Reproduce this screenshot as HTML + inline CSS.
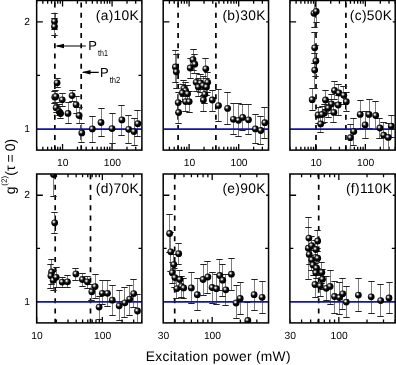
<!DOCTYPE html>
<html><head><meta charset="utf-8"><style>html,body{margin:0;padding:0;background:#fff}svg{display:block;will-change:transform}text{font-family:"Liberation Sans",sans-serif;fill:#000;text-rendering:geometricPrecision}</style></head><body>
<svg width="396" height="365" viewBox="0 0 396 365">
<defs><radialGradient id="g" cx="0.37" cy="0.36" r="0.6"><stop offset="0" stop-color="#fff"/><stop offset="0.16" stop-color="#d0d0d0"/><stop offset="0.36" stop-color="#444"/><stop offset="0.58" stop-color="#050505"/><stop offset="1" stop-color="#000"/></radialGradient>
<clipPath id="ca"><rect x="36.65" y="0.5" width="105.25" height="149.6"/></clipPath>
<clipPath id="cb"><rect x="163.2" y="0.5" width="105.35" height="149.6"/></clipPath>
<clipPath id="cc"><rect x="289.9" y="0.5" width="105.3" height="149.6"/></clipPath>
<clipPath id="cd"><rect x="36.65" y="174" width="105.25" height="148.9"/></clipPath>
<clipPath id="ce"><rect x="163.2" y="174" width="105.35" height="148.9"/></clipPath>
<clipPath id="cf"><rect x="289.9" y="174" width="105.3" height="148.9"/></clipPath>
</defs>
<rect width="396" height="365" fill="#fff"/>
<g clip-path="url(#ca)"><line x1="54.85" x2="54.85" y1="150.3" y2="0.5" stroke="#000" stroke-width="1.7" stroke-dasharray="5 5.2"/><line x1="81.2" x2="81.2" y1="150.3" y2="0.5" stroke="#000" stroke-width="1.7" stroke-dasharray="5 5.2"/><path d="M36.65 150.1v-3.3M36.65 0.5v3.3M42.84 150.1v-3.3M42.84 0.5v3.3M47.64 150.1v-3.3M47.64 0.5v3.3M51.56 150.1v-3.3M51.56 0.5v3.3M54.88 150.1v-3.3M54.88 0.5v3.3M57.75 150.1v-3.3M57.75 0.5v3.3M60.28 150.1v-3.3M60.28 0.5v3.3M62.55 150.1v-6M62.55 0.5v6M77.46 150.1v-3.3M77.46 0.5v3.3M86.18 150.1v-3.3M86.18 0.5v3.3M92.37 150.1v-3.3M92.37 0.5v3.3M97.17 150.1v-3.3M97.17 0.5v3.3M101.09 150.1v-3.3M101.09 0.5v3.3M104.41 150.1v-3.3M104.41 0.5v3.3M107.28 150.1v-3.3M107.28 0.5v3.3M109.81 150.1v-3.3M109.81 0.5v3.3M112.08 150.1v-6M112.08 0.5v6M126.99 150.1v-3.3M126.99 0.5v3.3M135.71 150.1v-3.3M135.71 0.5v3.3M141.9 150.1v-3.3M141.9 0.5v3.3M36.65 21.87h6.2M141.9 21.87h-2.4M36.65 75.3h3.4M141.9 75.3h-3.4" stroke="#000" stroke-width="1.3" fill="none"/><path d="M54.5 13.5V29.5M54.5 18.5V35.5M57.5 78.5V87.5M54.5 91.5V103.5M55.5 90.5V102.5M62.5 93.5V106.5M72.5 90.5V101.5M76.5 96.5V113.5M56.5 102.5V112.5M59.5 104.5V115.5M60.5 106.5V118.5M68.5 102.5V123.5M79.5 107.5V123.5M81.5 123.5V142.5M92.5 116.5V142.5M101.5 108.5V136.5M112.5 113.5V143.5M121.5 105.5V135.5M128.5 115.5V143.5M134.5 118.5V145.5M137.5 110.5V136.5" stroke="#7c7c7c" stroke-width="1" fill="none"/><path d="M51.3 13.5h6.4M51.3 29.5h6.4M51.3 18.5h6.4M51.3 35.5h6.4M54.3 78.5h6.4M54.3 87.5h6.4M51.3 91.5h6.4M51.3 103.5h6.4M52.3 90.5h6.4M52.3 102.5h6.4M59.3 93.5h6.4M59.3 106.5h6.4M69.3 90.5h6.4M69.3 101.5h6.4M73.3 96.5h6.4M73.3 113.5h6.4M53.3 102.5h6.4M53.3 112.5h6.4M56.3 104.5h6.4M56.3 115.5h6.4M57.3 106.5h6.4M57.3 118.5h6.4M65.3 102.5h6.4M65.3 123.5h6.4M76.3 107.5h6.4M76.3 123.5h6.4M78.3 123.5h6.4M78.3 142.5h6.4M89.3 116.5h6.4M89.3 142.5h6.4M98.3 108.5h6.4M98.3 136.5h6.4M109.3 113.5h6.4M109.3 143.5h6.4M118.3 105.5h6.4M118.3 135.5h6.4M125.3 115.5h6.4M125.3 143.5h6.4M131.3 118.5h6.4M131.3 145.5h6.4M134.3 110.5h6.4M134.3 136.5h6.4" stroke="#222" stroke-width="1.15" fill="none"/><line x1="36.65" x2="141.9" y1="129.03" y2="129.03" stroke="#1414ac" stroke-width="1.7"/><circle cx="54.5" cy="21.4" r="3.4" fill="url(#g)"/><circle cx="54.5" cy="26.6" r="3.4" fill="url(#g)"/><circle cx="57.1" cy="82.8" r="3.4" fill="url(#g)"/><circle cx="54.8" cy="97.2" r="3.4" fill="url(#g)"/><circle cx="55.9" cy="96.4" r="3.4" fill="url(#g)"/><circle cx="62.2" cy="99.8" r="3.4" fill="url(#g)"/><circle cx="72.1" cy="95.6" r="3.4" fill="url(#g)"/><circle cx="76.1" cy="104.7" r="3.4" fill="url(#g)"/><circle cx="56.1" cy="107.7" r="3.4" fill="url(#g)"/><circle cx="59.2" cy="111.6" r="3.4" fill="url(#g)"/><circle cx="60.6" cy="113.6" r="3.4" fill="url(#g)"/><circle cx="60" cy="112.8" r="3.4" fill="#000"/><circle cx="68" cy="113.4" r="3.4" fill="url(#g)"/><circle cx="79.1" cy="115.5" r="3.4" fill="url(#g)"/><circle cx="81.8" cy="132.9" r="3.4" fill="url(#g)"/><circle cx="92.3" cy="128.9" r="3.4" fill="url(#g)"/><circle cx="101" cy="122.5" r="3.4" fill="url(#g)"/><circle cx="112" cy="128.6" r="3.4" fill="url(#g)"/><circle cx="121.9" cy="119.9" r="3.4" fill="url(#g)"/><circle cx="128.7" cy="129.3" r="3.4" fill="url(#g)"/><circle cx="134" cy="131.6" r="3.4" fill="url(#g)"/><circle cx="137.8" cy="123.7" r="3.4" fill="url(#g)"/></g>
<rect x="36.65" y="0.5" width="105.25" height="149.6" fill="none" stroke="#000" stroke-width="1.5"/>
<text x="139" y="19.8" font-size="13.8" letter-spacing="0.3" text-anchor="end">(a)10K</text>
<text x="62.85" y="165.9" font-size="10.3" text-anchor="middle">10</text>
<text x="112.38" y="165.9" font-size="10.3" text-anchor="middle">100</text>
<text x="29.95" y="131.63" font-size="10.3" text-anchor="end">1</text>
<text x="29.95" y="24.77" font-size="10.3" text-anchor="end">2</text>
<g clip-path="url(#cb)"><line x1="178.1" x2="178.1" y1="150.3" y2="0.5" stroke="#000" stroke-width="1.7" stroke-dasharray="5 5.2"/><line x1="215.9" x2="215.9" y1="150.3" y2="0.5" stroke="#000" stroke-width="1.7" stroke-dasharray="5 5.2"/><path d="M163.2 150.1v-3.3M163.2 0.5v3.3M169.39 150.1v-3.3M169.39 0.5v3.3M174.2 150.1v-3.3M174.2 0.5v3.3M178.12 150.1v-3.3M178.12 0.5v3.3M181.44 150.1v-3.3M181.44 0.5v3.3M184.32 150.1v-3.3M184.32 0.5v3.3M186.85 150.1v-3.3M186.85 0.5v3.3M189.12 150.1v-6M189.12 0.5v6M204.05 150.1v-3.3M204.05 0.5v3.3M212.78 150.1v-3.3M212.78 0.5v3.3M218.97 150.1v-3.3M218.97 0.5v3.3M223.78 150.1v-3.3M223.78 0.5v3.3M227.7 150.1v-3.3M227.7 0.5v3.3M231.02 150.1v-3.3M231.02 0.5v3.3M233.9 150.1v-3.3M233.9 0.5v3.3M236.43 150.1v-3.3M236.43 0.5v3.3M238.7 150.1v-6M238.7 0.5v6M253.63 150.1v-3.3M253.63 0.5v3.3M262.36 150.1v-3.3M262.36 0.5v3.3M268.55 150.1v-3.3M268.55 0.5v3.3M163.2 21.87h6.2M268.55 21.87h-2.4" stroke="#000" stroke-width="1.3" fill="none"/><path d="M175.5 50.5V82.5M176.5 54.5V88.5M193.5 49.5V70.5M194.5 54.5V73.5M190.5 58.5V78.5M205.5 58.5V78.5M183.5 80.5V96.5M185.5 82.5V99.5M182.5 84.5V101.5M187.5 85.5V102.5M185.5 92.5V111.5M189.5 91.5V112.5M178.5 92.5V112.5M178.5 101.5V123.5M196.5 73.5V91.5M200.5 74.5V92.5M207.5 72.5V92.5M198.5 78.5V96.5M203.5 76.5V95.5M206.5 78.5V95.5M204.5 85.5V103.5M203.5 89.5V111.5M212.5 90.5V111.5M218.5 89.5V121.5M227.5 92.5V124.5M233.5 103.5V134.5M238.5 103.5V136.5M242.5 104.5V130.5M248.5 104.5V134.5M255.5 114.5V143.5M260.5 116.5V144.5M264.5 107.5V138.5" stroke="#7c7c7c" stroke-width="1" fill="none"/><path d="M172.3 50.5h6.4M172.3 82.5h6.4M173.3 54.5h6.4M173.3 88.5h6.4M190.3 49.5h6.4M190.3 70.5h6.4M191.3 54.5h6.4M191.3 73.5h6.4M187.3 58.5h6.4M187.3 78.5h6.4M202.3 58.5h6.4M202.3 78.5h6.4M180.3 80.5h6.4M180.3 96.5h6.4M182.3 82.5h6.4M182.3 99.5h6.4M179.3 84.5h6.4M179.3 101.5h6.4M184.3 85.5h6.4M184.3 102.5h6.4M182.3 92.5h6.4M182.3 111.5h6.4M186.3 91.5h6.4M186.3 112.5h6.4M175.3 92.5h6.4M175.3 112.5h6.4M175.3 101.5h6.4M175.3 123.5h6.4M193.3 73.5h6.4M193.3 91.5h6.4M197.3 74.5h6.4M197.3 92.5h6.4M204.3 72.5h6.4M204.3 92.5h6.4M195.3 78.5h6.4M195.3 96.5h6.4M200.3 76.5h6.4M200.3 95.5h6.4M203.3 78.5h6.4M203.3 95.5h6.4M201.3 85.5h6.4M201.3 103.5h6.4M200.3 89.5h6.4M200.3 111.5h6.4M209.3 90.5h6.4M209.3 111.5h6.4M215.3 89.5h6.4M215.3 121.5h6.4M224.3 92.5h6.4M224.3 124.5h6.4M230.3 103.5h6.4M230.3 134.5h6.4M235.3 103.5h6.4M235.3 136.5h6.4M239.3 104.5h6.4M239.3 130.5h6.4M245.3 104.5h6.4M245.3 134.5h6.4M252.3 114.5h6.4M252.3 143.5h6.4M257.3 116.5h6.4M257.3 144.5h6.4M261.3 107.5h6.4M261.3 138.5h6.4" stroke="#222" stroke-width="1.15" fill="none"/><line x1="163.2" x2="268.55" y1="129.03" y2="129.03" stroke="#1414ac" stroke-width="1.7"/><circle cx="175.4" cy="67" r="3.4" fill="url(#g)"/><circle cx="176.3" cy="71.8" r="3.4" fill="url(#g)"/><circle cx="193" cy="59.7" r="3.4" fill="url(#g)"/><circle cx="194.8" cy="64.2" r="3.4" fill="url(#g)"/><circle cx="190.2" cy="68" r="3.4" fill="url(#g)"/><circle cx="205.8" cy="68.8" r="3.4" fill="url(#g)"/><circle cx="183.9" cy="88.3" r="3.4" fill="url(#g)"/><circle cx="185.6" cy="90.6" r="3.4" fill="url(#g)"/><circle cx="182.3" cy="93" r="3.4" fill="url(#g)"/><circle cx="187.6" cy="93.8" r="3.4" fill="url(#g)"/><circle cx="185.6" cy="101.6" r="3.4" fill="url(#g)"/><circle cx="189.2" cy="101.6" r="3.4" fill="url(#g)"/><circle cx="178.2" cy="102.6" r="3.4" fill="url(#g)"/><circle cx="178.6" cy="112.5" r="3.4" fill="url(#g)"/><circle cx="196.2" cy="82.3" r="3.4" fill="url(#g)"/><circle cx="200.4" cy="83" r="3.4" fill="url(#g)"/><circle cx="207.7" cy="82.3" r="3.4" fill="url(#g)"/><circle cx="198.3" cy="87" r="3.4" fill="url(#g)"/><circle cx="203" cy="85.6" r="3.4" fill="url(#g)"/><circle cx="206.5" cy="87" r="3.4" fill="url(#g)"/><circle cx="204.8" cy="94.3" r="3.4" fill="url(#g)"/><circle cx="203.4" cy="100" r="3.4" fill="url(#g)"/><circle cx="212.3" cy="100" r="3.4" fill="url(#g)"/><circle cx="218.5" cy="105.6" r="3.4" fill="url(#g)"/><circle cx="227.6" cy="108.4" r="3.4" fill="url(#g)"/><circle cx="233.4" cy="119.3" r="3.4" fill="url(#g)"/><circle cx="238.5" cy="120.3" r="3.4" fill="url(#g)"/><circle cx="242.7" cy="117.4" r="3.4" fill="url(#g)"/><circle cx="248.5" cy="119.8" r="3.4" fill="url(#g)"/><circle cx="255.4" cy="128.9" r="3.4" fill="url(#g)"/><circle cx="260.8" cy="130.5" r="3.4" fill="url(#g)"/><circle cx="264.8" cy="122.7" r="3.4" fill="url(#g)"/></g>
<rect x="163.2" y="0.5" width="105.35" height="149.6" fill="none" stroke="#000" stroke-width="1.5"/>
<text x="265.65" y="19.8" font-size="13.8" letter-spacing="0.3" text-anchor="end">(b)30K</text>
<text x="189.42" y="165.9" font-size="10.3" text-anchor="middle">10</text>
<text x="239" y="165.9" font-size="10.3" text-anchor="middle">100</text>
<g clip-path="url(#cc)"><line x1="316" x2="316" y1="150.3" y2="0.5" stroke="#000" stroke-width="1.7" stroke-dasharray="5 5.2"/><line x1="345.9" x2="345.9" y1="150.3" y2="0.5" stroke="#000" stroke-width="1.7" stroke-dasharray="5 5.2"/><path d="M289.9 150.1v-3.3M289.9 0.5v3.3M296.09 150.1v-3.3M296.09 0.5v3.3M300.89 150.1v-3.3M300.89 0.5v3.3M304.82 150.1v-3.3M304.82 0.5v3.3M308.13 150.1v-3.3M308.13 0.5v3.3M311.01 150.1v-3.3M311.01 0.5v3.3M313.54 150.1v-3.3M313.54 0.5v3.3M315.81 150.1v-6M315.81 0.5v6M330.73 150.1v-3.3M330.73 0.5v3.3M339.45 150.1v-3.3M339.45 0.5v3.3M345.65 150.1v-3.3M345.65 0.5v3.3M350.45 150.1v-3.3M350.45 0.5v3.3M354.37 150.1v-3.3M354.37 0.5v3.3M357.69 150.1v-3.3M357.69 0.5v3.3M360.56 150.1v-3.3M360.56 0.5v3.3M363.1 150.1v-3.3M363.1 0.5v3.3M365.37 150.1v-6M365.37 0.5v6M380.28 150.1v-3.3M380.28 0.5v3.3M389.01 150.1v-3.3M389.01 0.5v3.3M395.2 150.1v-3.3M395.2 0.5v3.3M289.9 21.87h6.2M395.2 21.87h-2.4" stroke="#000" stroke-width="1.3" fill="none"/><path d="M314.5 -2.5V27.5M316.5 -2.5V22.5M314.5 32.5V63.5M315.5 45.5V76.5M314.5 53.5V88.5M312.5 88.5V110.5M325.5 90.5V109.5M334.5 81.5V99.5M338.5 84.5V102.5M343.5 86.5V104.5M346.5 92.5V111.5M338.5 95.5V115.5M331.5 94.5V113.5M328.5 99.5V117.5M333.5 103.5V122.5M324.5 104.5V122.5M318.5 107.5V123.5M322.5 106.5V123.5M320.5 116.5V132.5M353.5 118.5V145.5M350.5 124.5V151.5M360.5 100.5V128.5M369.5 99.5V128.5M375.5 101.5V129.5M365.5 111.5V138.5M379.5 118.5V138.5M383.5 122.5V153.5M388.5 123.5V151.5M391.5 115.5V137.5" stroke="#7c7c7c" stroke-width="1" fill="none"/><path d="M311.3 -2.5h6.4M311.3 27.5h6.4M313.3 -2.5h6.4M313.3 22.5h6.4M311.3 32.5h6.4M311.3 63.5h6.4M312.3 45.5h6.4M312.3 76.5h6.4M311.3 53.5h6.4M311.3 88.5h6.4M309.3 88.5h6.4M309.3 110.5h6.4M322.3 90.5h6.4M322.3 109.5h6.4M331.3 81.5h6.4M331.3 99.5h6.4M335.3 84.5h6.4M335.3 102.5h6.4M340.3 86.5h6.4M340.3 104.5h6.4M343.3 92.5h6.4M343.3 111.5h6.4M335.3 95.5h6.4M335.3 115.5h6.4M328.3 94.5h6.4M328.3 113.5h6.4M325.3 99.5h6.4M325.3 117.5h6.4M330.3 103.5h6.4M330.3 122.5h6.4M321.3 104.5h6.4M321.3 122.5h6.4M315.3 107.5h6.4M315.3 123.5h6.4M319.3 106.5h6.4M319.3 123.5h6.4M317.3 116.5h6.4M317.3 132.5h6.4M350.3 118.5h6.4M350.3 145.5h6.4M347.3 124.5h6.4M347.3 151.5h6.4M357.3 100.5h6.4M357.3 128.5h6.4M366.3 99.5h6.4M366.3 128.5h6.4M372.3 101.5h6.4M372.3 129.5h6.4M362.3 111.5h6.4M362.3 138.5h6.4M376.3 118.5h6.4M376.3 138.5h6.4M380.3 122.5h6.4M380.3 153.5h6.4M385.3 123.5h6.4M385.3 151.5h6.4M388.3 115.5h6.4M388.3 137.5h6.4" stroke="#222" stroke-width="1.15" fill="none"/><line x1="289.9" x2="395.2" y1="129.03" y2="129.03" stroke="#1414ac" stroke-width="1.7"/><circle cx="314" cy="13.3" r="3.4" fill="url(#g)"/><circle cx="316.2" cy="11.4" r="3.4" fill="url(#g)"/><circle cx="314.7" cy="47.8" r="3.4" fill="url(#g)"/><circle cx="315.9" cy="61" r="3.4" fill="url(#g)"/><circle cx="314.7" cy="70.1" r="3.4" fill="url(#g)"/><circle cx="312.2" cy="99.7" r="3.4" fill="url(#g)"/><circle cx="325.5" cy="100" r="3.4" fill="url(#g)"/><circle cx="334.5" cy="90.5" r="3.4" fill="url(#g)"/><circle cx="338.9" cy="93" r="3.4" fill="url(#g)"/><circle cx="343.8" cy="95.3" r="3.4" fill="url(#g)"/><circle cx="346.3" cy="101.7" r="3.4" fill="url(#g)"/><circle cx="338.2" cy="105" r="3.4" fill="url(#g)"/><circle cx="331.5" cy="104" r="3.4" fill="url(#g)"/><circle cx="328.3" cy="108" r="3.4" fill="url(#g)"/><circle cx="333.9" cy="112.4" r="3.4" fill="url(#g)"/><circle cx="324.5" cy="113" r="3.4" fill="url(#g)"/><circle cx="318.1" cy="115" r="3.4" fill="url(#g)"/><circle cx="322" cy="114.5" r="3.4" fill="url(#g)"/><circle cx="320.7" cy="123.9" r="3.4" fill="url(#g)"/><circle cx="353.8" cy="131.5" r="3.4" fill="url(#g)"/><circle cx="350.4" cy="137.7" r="3.4" fill="url(#g)"/><circle cx="360.2" cy="114.4" r="3.4" fill="url(#g)"/><circle cx="369" cy="114.4" r="3.4" fill="url(#g)"/><circle cx="375.7" cy="115.5" r="3.4" fill="url(#g)"/><circle cx="365.1" cy="125" r="3.4" fill="url(#g)"/><circle cx="379.9" cy="128" r="3.4" fill="url(#g)"/><circle cx="383.7" cy="135.2" r="3.4" fill="url(#g)"/><circle cx="388.3" cy="137.4" r="3.4" fill="url(#g)"/><circle cx="391.3" cy="126.1" r="3.4" fill="url(#g)"/></g>
<rect x="289.9" y="0.5" width="105.3" height="149.6" fill="none" stroke="#000" stroke-width="1.5"/>
<text x="392.3" y="19.8" font-size="13.8" letter-spacing="0.3" text-anchor="end">(c)50K</text>
<text x="316.11" y="165.9" font-size="10.3" text-anchor="middle">10</text>
<text x="365.67" y="165.9" font-size="10.3" text-anchor="middle">100</text>
<g clip-path="url(#cd)"><line x1="55.2" x2="55.2" y1="323.8" y2="174" stroke="#000" stroke-width="1.7" stroke-dasharray="5 5.32"/><line x1="90.5" x2="90.5" y1="323.8" y2="174" stroke="#000" stroke-width="1.7" stroke-dasharray="5 5.32"/><path d="M36.65 322.9v-6M36.65 174v6M56.43 322.9v-3.3M56.43 174v3.3M68 322.9v-3.3M68 174v3.3M76.2 322.9v-3.3M76.2 174v3.3M82.57 322.9v-3.3M82.57 174v3.3M87.77 322.9v-3.3M87.77 174v3.3M92.17 322.9v-3.3M92.17 174v3.3M95.98 322.9v-3.3M95.98 174v3.3M99.34 322.9v-3.3M99.34 174v3.3M102.35 322.9v-6M102.35 174v6M122.12 322.9v-3.3M122.12 174v3.3M133.69 322.9v-3.3M133.69 174v3.3M141.9 322.9v-3.3M141.9 174v3.3M36.65 195.27h6.2M141.9 195.27h-2.4M36.65 248.45h3.4M141.9 248.45h-3.4" stroke="#000" stroke-width="1.3" fill="none"/><path d="M53.5 153.5V196.5M54.5 212.5V233.5M51.5 259.5V284.5M50.5 264.5V288.5M53.5 270.5V290.5M56.5 267.5V287.5M62.5 277.5V287.5M67.5 275.5V287.5M75.5 268.5V280.5M82.5 273.5V286.5M87.5 276.5V288.5M91.5 284.5V300.5M95.5 274.5V298.5M99.5 296.5V319.5M102.5 280.5V304.5M107.5 280.5V306.5M112.5 285.5V315.5M119.5 290.5V320.5M124.5 287.5V317.5M129.5 285.5V315.5M133.5 279.5V307.5M137.5 294.5V327.5" stroke="#7c7c7c" stroke-width="1" fill="none"/><path d="M50.3 153.5h6.4M50.3 196.5h6.4M51.3 212.5h6.4M51.3 233.5h6.4M48.3 259.5h6.4M48.3 284.5h6.4M47.3 264.5h6.4M47.3 288.5h6.4M50.3 270.5h6.4M50.3 290.5h6.4M53.3 267.5h6.4M53.3 287.5h6.4M59.3 277.5h6.4M59.3 287.5h6.4M64.3 275.5h6.4M64.3 287.5h6.4M72.3 268.5h6.4M72.3 280.5h6.4M79.3 273.5h6.4M79.3 286.5h6.4M84.3 276.5h6.4M84.3 288.5h6.4M88.3 284.5h6.4M88.3 300.5h6.4M92.3 274.5h6.4M92.3 298.5h6.4M96.3 296.5h6.4M96.3 319.5h6.4M99.3 280.5h6.4M99.3 304.5h6.4M104.3 280.5h6.4M104.3 306.5h6.4M109.3 285.5h6.4M109.3 315.5h6.4M116.3 290.5h6.4M116.3 320.5h6.4M121.3 287.5h6.4M121.3 317.5h6.4M126.3 285.5h6.4M126.3 315.5h6.4M130.3 279.5h6.4M130.3 307.5h6.4M134.3 294.5h6.4M134.3 327.5h6.4" stroke="#222" stroke-width="1.15" fill="none"/><line x1="36.65" x2="141.9" y1="301.93" y2="301.93" stroke="#1414ac" stroke-width="1.7"/><circle cx="53.5" cy="174.6" r="3.4" fill="url(#g)"/><circle cx="54.7" cy="222.8" r="3.4" fill="url(#g)"/><circle cx="51.6" cy="272" r="3.4" fill="url(#g)"/><circle cx="50.9" cy="275.8" r="3.4" fill="url(#g)"/><circle cx="53.2" cy="280.3" r="3.4" fill="url(#g)"/><circle cx="56.2" cy="277.3" r="3.4" fill="url(#g)"/><circle cx="62.2" cy="282.1" r="3.4" fill="url(#g)"/><circle cx="67.5" cy="281.8" r="3.4" fill="url(#g)"/><circle cx="75.9" cy="273.9" r="3.4" fill="url(#g)"/><circle cx="82.4" cy="279.5" r="3.4" fill="url(#g)"/><circle cx="87.3" cy="281.8" r="3.4" fill="url(#g)"/><circle cx="91.8" cy="291.8" r="3.4" fill="url(#g)"/><circle cx="95.1" cy="286.6" r="3.4" fill="url(#g)"/><circle cx="99.1" cy="307.1" r="3.4" fill="url(#g)"/><circle cx="102.3" cy="293.3" r="3.4" fill="url(#g)"/><circle cx="107.5" cy="293.3" r="3.4" fill="url(#g)"/><circle cx="112.3" cy="300.2" r="3.4" fill="url(#g)"/><circle cx="119.2" cy="305.8" r="3.4" fill="url(#g)"/><circle cx="124.9" cy="302.8" r="3.4" fill="url(#g)"/><circle cx="129.7" cy="299.1" r="3.4" fill="url(#g)"/><circle cx="133.7" cy="293.6" r="3.4" fill="url(#g)"/><circle cx="137.5" cy="311" r="3.4" fill="url(#g)"/></g>
<rect x="36.65" y="174" width="105.25" height="148.9" fill="none" stroke="#000" stroke-width="1.5"/>
<text x="139" y="193.3" font-size="13.8" letter-spacing="0.3" text-anchor="end">(d)70K</text>
<text x="36.95" y="338.7" font-size="10.3" text-anchor="middle">10</text>
<text x="102.65" y="338.7" font-size="10.3" text-anchor="middle">100</text>
<text x="29.95" y="304.53" font-size="10.3" text-anchor="end">1</text>
<text x="29.95" y="198.17" font-size="10.3" text-anchor="end">2</text>
<g clip-path="url(#ce)"><line x1="174.7" x2="174.7" y1="323.8" y2="174" stroke="#000" stroke-width="1.7" stroke-dasharray="5 5.32"/><path d="M163.2 322.9v-3.3M163.2 174v3.3M174.9 322.9v-3.3M174.9 174v3.3M183.98 322.9v-3.3M183.98 174v3.3M191.39 322.9v-3.3M191.39 174v3.3M197.66 322.9v-3.3M197.66 174v3.3M203.09 322.9v-3.3M203.09 174v3.3M207.88 322.9v-3.3M207.88 174v3.3M212.17 322.9v-6M212.17 174v6M240.36 322.9v-3.3M240.36 174v3.3M256.85 322.9v-3.3M256.85 174v3.3M268.55 322.9v-3.3M268.55 174v3.3M163.2 195.27h6.2M268.55 195.27h-2.4M163.2 248.45h3.4M268.55 248.45h-3.4" stroke="#000" stroke-width="1.3" fill="none"/><path d="M169.5 214.5V252.5M170.5 232.5V271.5M178.5 243.5V264.5M173.5 254.5V275.5M172.5 262.5V283.5M174.5 268.5V287.5M179.5 270.5V289.5M176.5 279.5V298.5M181.5 276.5V297.5M183.5 278.5V298.5M191.5 272.5V303.5M197.5 278.5V310.5M203.5 264.5V295.5M207.5 261.5V293.5M212.5 272.5V303.5M216.5 274.5V304.5M219.5 259.5V290.5M222.5 264.5V296.5M225.5 274.5V305.5M231.5 258.5V290.5M236.5 285.5V318.5M240.5 282.5V314.5M247.5 302.5V338.5M254.5 279.5V310.5M262.5 281.5V313.5" stroke="#7c7c7c" stroke-width="1" fill="none"/><path d="M166.3 214.5h6.4M166.3 252.5h6.4M167.3 232.5h6.4M167.3 271.5h6.4M175.3 243.5h6.4M175.3 264.5h6.4M170.3 254.5h6.4M170.3 275.5h6.4M169.3 262.5h6.4M169.3 283.5h6.4M171.3 268.5h6.4M171.3 287.5h6.4M176.3 270.5h6.4M176.3 289.5h6.4M173.3 279.5h6.4M173.3 298.5h6.4M178.3 276.5h6.4M178.3 297.5h6.4M180.3 278.5h6.4M180.3 298.5h6.4M188.3 272.5h6.4M188.3 303.5h6.4M194.3 278.5h6.4M194.3 310.5h6.4M200.3 264.5h6.4M200.3 295.5h6.4M204.3 261.5h6.4M204.3 293.5h6.4M209.3 272.5h6.4M209.3 303.5h6.4M213.3 274.5h6.4M213.3 304.5h6.4M216.3 259.5h6.4M216.3 290.5h6.4M219.3 264.5h6.4M219.3 296.5h6.4M222.3 274.5h6.4M222.3 305.5h6.4M228.3 258.5h6.4M228.3 290.5h6.4M233.3 285.5h6.4M233.3 318.5h6.4M237.3 282.5h6.4M237.3 314.5h6.4M244.3 302.5h6.4M244.3 338.5h6.4M251.3 279.5h6.4M251.3 310.5h6.4M259.3 281.5h6.4M259.3 313.5h6.4" stroke="#222" stroke-width="1.15" fill="none"/><line x1="163.2" x2="268.55" y1="301.93" y2="301.93" stroke="#1414ac" stroke-width="1.7"/><circle cx="169.6" cy="233.5" r="3.4" fill="url(#g)"/><circle cx="170.8" cy="251.8" r="3.4" fill="url(#g)"/><circle cx="178.7" cy="253.7" r="3.4" fill="url(#g)"/><circle cx="173.8" cy="264.6" r="3.4" fill="url(#g)"/><circle cx="172.3" cy="272.7" r="3.4" fill="url(#g)"/><circle cx="174.9" cy="277.6" r="3.4" fill="url(#g)"/><circle cx="179.9" cy="279.5" r="3.4" fill="url(#g)"/><circle cx="176.9" cy="288.6" r="3.4" fill="url(#g)"/><circle cx="181.4" cy="286.4" r="3.4" fill="url(#g)"/><circle cx="183.7" cy="287.9" r="3.4" fill="url(#g)"/><circle cx="191.3" cy="287.9" r="3.4" fill="url(#g)"/><circle cx="197.3" cy="294.7" r="3.4" fill="url(#g)"/><circle cx="203.1" cy="279.5" r="3.4" fill="url(#g)"/><circle cx="207.9" cy="277" r="3.4" fill="url(#g)"/><circle cx="212.1" cy="287.5" r="3.4" fill="url(#g)"/><circle cx="216.4" cy="288.7" r="3.4" fill="url(#g)"/><circle cx="219.8" cy="275.5" r="3.4" fill="url(#g)"/><circle cx="222.7" cy="280.2" r="3.4" fill="url(#g)"/><circle cx="225.8" cy="289.8" r="3.4" fill="url(#g)"/><circle cx="231.4" cy="274.2" r="3.4" fill="url(#g)"/><circle cx="236.1" cy="303" r="3.4" fill="url(#g)"/><circle cx="240.2" cy="298.4" r="3.4" fill="url(#g)"/><circle cx="247.8" cy="320.5" r="3.4" fill="url(#g)"/><circle cx="254.1" cy="294.7" r="3.4" fill="url(#g)"/><circle cx="262.1" cy="297.3" r="3.4" fill="url(#g)"/></g>
<rect x="163.2" y="174" width="105.35" height="148.9" fill="none" stroke="#000" stroke-width="1.5"/>
<text x="265.65" y="193.3" font-size="13.8" letter-spacing="0.3" text-anchor="end">(e)90K</text>
<text x="163.5" y="338.7" font-size="10.3" text-anchor="middle">30</text>
<text x="212.47" y="338.7" font-size="10.3" text-anchor="middle">100</text>
<g clip-path="url(#cf)"><line x1="318.7" x2="318.7" y1="323.8" y2="174" stroke="#000" stroke-width="1.7" stroke-dasharray="5 5.32"/><path d="M289.9 322.9v-3.3M289.9 174v3.3M301.59 322.9v-3.3M301.59 174v3.3M310.67 322.9v-3.3M310.67 174v3.3M318.08 322.9v-3.3M318.08 174v3.3M324.34 322.9v-3.3M324.34 174v3.3M329.77 322.9v-3.3M329.77 174v3.3M334.56 322.9v-3.3M334.56 174v3.3M338.84 322.9v-6M338.84 174v6M367.02 322.9v-3.3M367.02 174v3.3M383.51 322.9v-3.3M383.51 174v3.3M395.2 322.9v-3.3M395.2 174v3.3M289.9 195.27h6.2M395.2 195.27h-2.4M289.9 248.45h3.4M395.2 248.45h-3.4" stroke="#000" stroke-width="1.3" fill="none"/><path d="M308.5 227.5V249.5M317.5 230.5V251.5M308.5 217.5V279.5M311.5 236.5V255.5M315.5 240.5V259.5M309.5 245.5V264.5M315.5 247.5V267.5M311.5 250.5V270.5M317.5 248.5V268.5M313.5 255.5V275.5M316.5 258.5V278.5M315.5 263.5V283.5M321.5 262.5V283.5M322.5 269.5V289.5M315.5 271.5V297.5M320.5 275.5V296.5M326.5 276.5V300.5M330.5 270.5V304.5M334.5 281.5V313.5M339.5 282.5V314.5M342.5 278.5V309.5M346.5 286.5V317.5M358.5 278.5V311.5M371.5 281.5V313.5M380.5 284.5V316.5M389.5 282.5V313.5" stroke="#7c7c7c" stroke-width="1" fill="none"/><path d="M305.3 227.5h6.4M305.3 249.5h6.4M314.3 230.5h6.4M314.3 251.5h6.4M305.3 217.5h6.4M305.3 279.5h6.4M308.3 236.5h6.4M308.3 255.5h6.4M312.3 240.5h6.4M312.3 259.5h6.4M306.3 245.5h6.4M306.3 264.5h6.4M312.3 247.5h6.4M312.3 267.5h6.4M308.3 250.5h6.4M308.3 270.5h6.4M314.3 248.5h6.4M314.3 268.5h6.4M310.3 255.5h6.4M310.3 275.5h6.4M313.3 258.5h6.4M313.3 278.5h6.4M312.3 263.5h6.4M312.3 283.5h6.4M318.3 262.5h6.4M318.3 283.5h6.4M319.3 269.5h6.4M319.3 289.5h6.4M312.3 271.5h6.4M312.3 297.5h6.4M317.3 275.5h6.4M317.3 296.5h6.4M323.3 276.5h6.4M323.3 300.5h6.4M327.3 270.5h6.4M327.3 304.5h6.4M331.3 281.5h6.4M331.3 313.5h6.4M336.3 282.5h6.4M336.3 314.5h6.4M339.3 278.5h6.4M339.3 309.5h6.4M343.3 286.5h6.4M343.3 317.5h6.4M355.3 278.5h6.4M355.3 311.5h6.4M368.3 281.5h6.4M368.3 313.5h6.4M377.3 284.5h6.4M377.3 316.5h6.4M386.3 282.5h6.4M386.3 313.5h6.4" stroke="#222" stroke-width="1.15" fill="none"/><line x1="289.9" x2="395.2" y1="301.93" y2="301.93" stroke="#1414ac" stroke-width="1.7"/><circle cx="308.9" cy="238.1" r="3.4" fill="url(#g)"/><circle cx="317.7" cy="241" r="3.4" fill="url(#g)"/><circle cx="308.4" cy="248.2" r="3.4" fill="url(#g)"/><circle cx="311.7" cy="245.7" r="3.4" fill="url(#g)"/><circle cx="315.9" cy="249.5" r="3.4" fill="url(#g)"/><circle cx="309.2" cy="254.4" r="3.4" fill="url(#g)"/><circle cx="315.7" cy="257.3" r="3.4" fill="url(#g)"/><circle cx="311.8" cy="259.8" r="3.4" fill="url(#g)"/><circle cx="317.7" cy="258.2" r="3.4" fill="url(#g)"/><circle cx="313" cy="265" r="3.4" fill="url(#g)"/><circle cx="316.5" cy="268" r="3.4" fill="url(#g)"/><circle cx="315.8" cy="272.8" r="3.4" fill="url(#g)"/><circle cx="321.8" cy="272.4" r="3.4" fill="url(#g)"/><circle cx="322.5" cy="279.2" r="3.4" fill="url(#g)"/><circle cx="315" cy="284.5" r="3.4" fill="url(#g)"/><circle cx="320.2" cy="285.7" r="3.4" fill="url(#g)"/><circle cx="326.3" cy="288.3" r="3.4" fill="url(#g)"/><circle cx="330.1" cy="286.4" r="3.4" fill="url(#g)"/><circle cx="334.5" cy="296.5" r="3.4" fill="url(#g)"/><circle cx="339.4" cy="297.5" r="3.4" fill="url(#g)"/><circle cx="342.8" cy="293.8" r="3.4" fill="url(#g)"/><circle cx="346.3" cy="302.1" r="3.4" fill="url(#g)"/><circle cx="358.4" cy="295.1" r="3.4" fill="url(#g)"/><circle cx="371.2" cy="296.8" r="3.4" fill="url(#g)"/><circle cx="380.7" cy="300.6" r="3.4" fill="url(#g)"/><circle cx="389" cy="298" r="3.4" fill="url(#g)"/></g>
<rect x="289.9" y="174" width="105.3" height="148.9" fill="none" stroke="#000" stroke-width="1.5"/>
<text x="392.3" y="193.3" font-size="13.8" letter-spacing="0.3" text-anchor="end">(f)110K</text>
<text x="290.2" y="338.7" font-size="10.3" text-anchor="middle">30</text>
<text x="339.14" y="338.7" font-size="10.3" text-anchor="middle">100</text>
<path d="M57 46H85.8M83 72.3H98.7" stroke="#000" stroke-width="1.2" fill="none"/>
<path d="M55.2 46l8.8-2.3v4.6zM81.7 72.3l8.8-2.3v4.6z" fill="#000"/>
<text x="88.3" y="49.9" font-size="13">P</text><text x="98" y="56.3" font-size="8.8" textLength="9.9" lengthAdjust="spacingAndGlyphs">th1</text>
<text x="100" y="76.9" font-size="13">P</text><text x="109.7" y="83.2" font-size="8.8" textLength="10.6" lengthAdjust="spacingAndGlyphs">th2</text>
<text x="218.3" y="361.3" font-size="13.8" letter-spacing="0.3" text-anchor="middle">Excitation power (mW)</text>
<text transform="translate(14.5 194.3) rotate(-90)" font-size="14">g<tspan font-size="8" dx="0.8" dy="-7.4">(2)</tspan><tspan dy="7.4" dx="0.3" word-spacing="-0.9">(τ = 0)</tspan></text>
</svg></body></html>
